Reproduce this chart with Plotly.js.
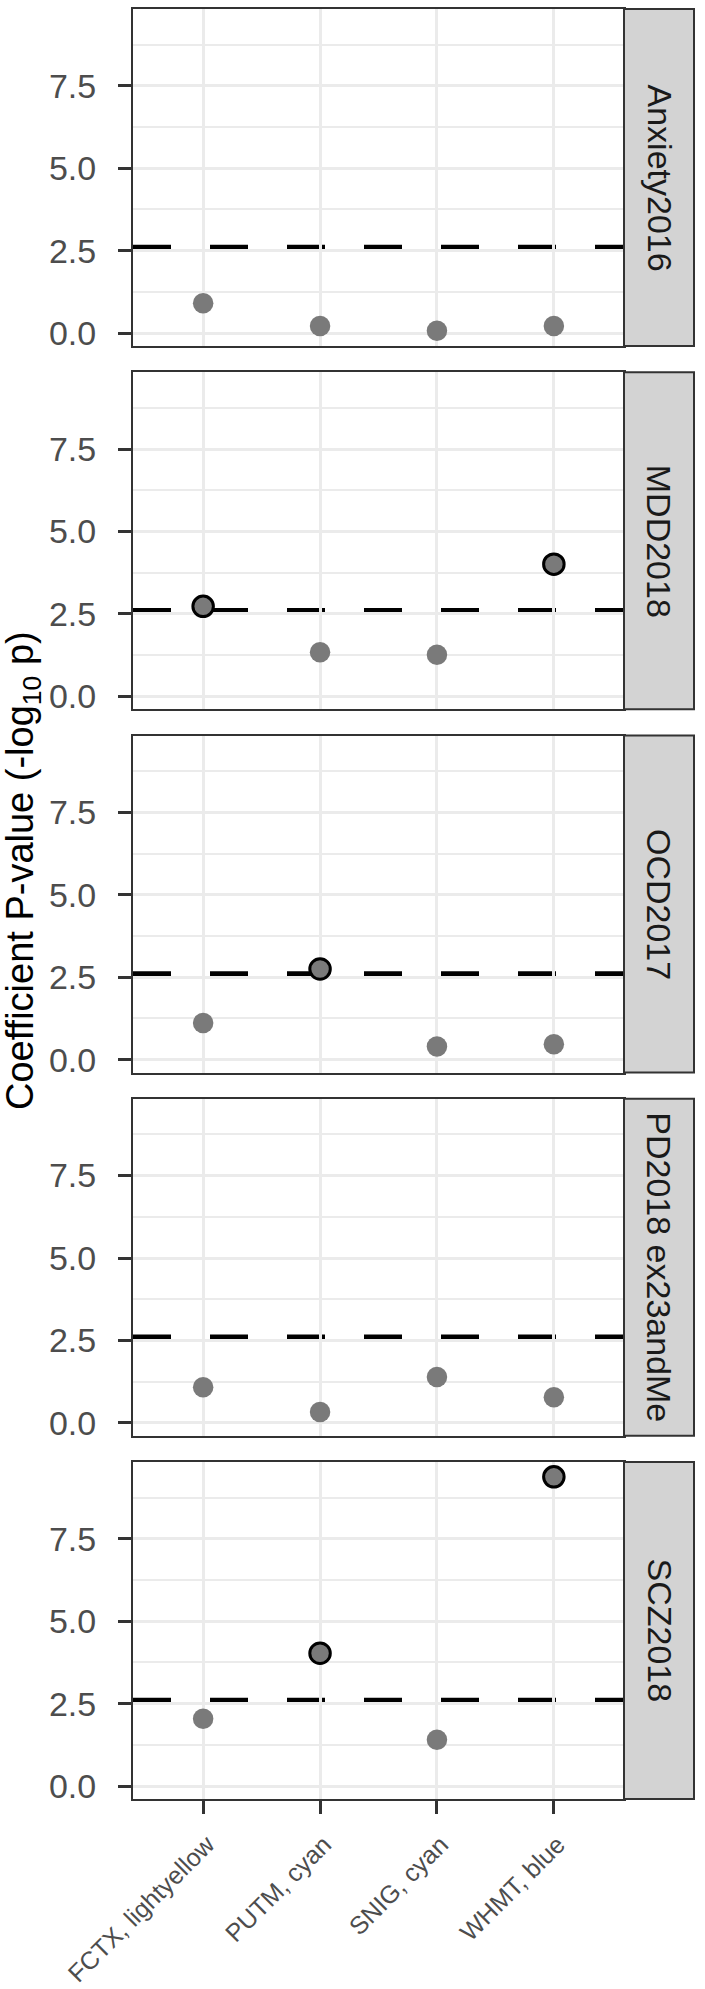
<!DOCTYPE html>
<html>
<head>
<meta charset="utf-8">
<script src="https://cdn.plot.ly/plotly-3.0.1.min.js"></script>
<style>html,body{margin:0;padding:0;background:#fff;}</style>
</head>
<body>
<div id="chart" style="width:705px;height:1989px;"></div>
<script>
// ---- data ----
const categories = ['FCTX, lightyellow', 'PUTM, cyan', 'SNIG, cyan', 'WHMT, blue'];
const panelNames = ['Anxiety2016', 'MDD2018', 'OCD2017', 'PD2018 ex23andMe', 'SCZ2018'];
const anxiety2016 = [0.91, 0.22, 0.07, 0.22];
const mdd2018 = [2.73, 1.34, 1.26, 4.01];
const ocd2017 = [1.11, 2.75, 0.40, 0.47];
const pd2018 = [1.08, 0.33, 1.39, 0.78];
const scz2018 = [2.04, 4.03, 1.41, 9.38];
const threshold = 2.602;
const yTickVals = [0, 2.5, 5, 7.5];
const yTickText = ['0.0', '2.5', '5.0', '7.5'];
const yTitle = 'Coefficient P-value (-log<sub>10</sub> p)';

const series = [anxiety2016, mdd2018, ocd2017, pd2018, scz2018];

// ---- layout geometry ----
const W = 705, H = 1989;
const mL = 133, mR = 81, mT = 9, mB = 190;
const plotW = W - mL - mR;
const plotH = H - mT - mB;          // 1790
const panelStep = 363.25, panelH = 337;
const font = 'Liberation Sans, Arial, Helvetica, sans-serif';
const frame = '#333333';
const gridC = '#ebebeb';

const traces = [];
const layout = {
  width: W, height: H,
  margin: {l: mL, r: mR, t: mT, b: mB, pad: 0},
  paper_bgcolor: '#ffffff',
  plot_bgcolor: 'rgba(0,0,0,0)',
  showlegend: false,
  font: {family: font, color: '#4d4d4d'},
  shapes: [],
  annotations: []
};

const stripX1 = (W - 11 - mL) / plotW;

series.forEach((vals, i) => {
  const n = i + 1;
  const xa = n === 1 ? 'x' : 'x' + n;
  const ya = n === 1 ? 'y' : 'y' + n;
  const xk = n === 1 ? 'xaxis' : 'xaxis' + n;
  const yk = n === 1 ? 'yaxis' : 'yaxis' + n;
  const topPx = i * panelStep;
  const botPx = topPx + panelH;
  const d0 = 1 - botPx / plotH, d1 = 1 - topPx / plotH;

  traces.push({
    type: 'scatter', mode: 'markers',
    x: categories, y: vals, xaxis: xa, yaxis: ya,
    cliponaxis: false,
    marker: {
      size: 20.5,
      color: '#7a7a7a',
      line: {
        color: '#000000',
        width: vals.map(v => v > threshold ? 3 : 0)
      }
    },
    hoverinfo: 'x+y'
  });

  const isBottom = n === series.length;
  layout[xk] = {
    type: 'category',
    categoryorder: 'array', categoryarray: categories,
    range: [-0.6, 3.6],
    domain: [0, 1],
    anchor: ya,
    showgrid: true, gridcolor: gridC, gridwidth: 3,
    zeroline: false,
    showline: true, linecolor: frame, linewidth: 2, mirror: true,
    ticks: isBottom ? 'outside' : '',
    ticklen: 13, tickwidth: 3, tickcolor: frame,
    showticklabels: isBottom,
    tickangle: -45,
    ticklabelstandoff: 6,
    ticklabelshift: 4,
    tickfont: {family: font, size: 25, color: '#4d4d4d'},
    fixedrange: true
  };
  layout[yk] = {
    domain: [d0, d1],
    anchor: xa,
    range: [-0.39, 9.83],
    tickmode: 'array', tickvals: yTickVals, ticktext: yTickText,
    showgrid: true, gridcolor: gridC, gridwidth: 3,
    minor: {dtick: 1.25, tick0: 0, showgrid: true, gridcolor: gridC, gridwidth: 2, ticks: ''},
    zeroline: false,
    showline: true, linecolor: frame, linewidth: 2, mirror: true,
    ticks: 'outside', ticklen: 13, tickwidth: 3, tickcolor: frame,
    ticklabelstandoff: 15,
    tickfont: {family: font, size: 34, color: '#4d4d4d'},
    fixedrange: true
  };

  // threshold dashed line (below traces)
  layout.shapes.push({
    type: 'line', layer: 'below',
    xref: 'paper', x0: 0, x1: 1,
    yref: ya, y0: threshold, y1: threshold,
    line: {color: '#000000', width: 5, dash: '38px,39px'}
  });
  // facet strip
  layout.shapes.push({
    type: 'rect', layer: 'above',
    xref: 'paper', x0: 1, x1: stripX1,
    yref: 'paper', y0: d0, y1: d1,
    fillcolor: '#d3d3d3',
    line: {color: frame, width: 2}
  });
  layout.annotations.push({
    text: panelNames[i],
    xref: 'paper', x: (1 + stripX1) / 2,
    yref: 'paper', y: (d0 + d1) / 2,
    xanchor: 'center', yanchor: 'middle',
    textangle: 90, showarrow: false,
    font: {family: font, size: 34, color: '#1a1a1a'}
  });
});

// y axis title
layout.annotations.push({
  text: yTitle,
  xref: 'paper', x: (23 - mL) / plotW,
  yref: 'paper', y: (plotH + mT - 871) / plotH,
  xanchor: 'center', yanchor: 'middle',
  textangle: -90, showarrow: false,
  font: {family: font, size: 38, color: '#000000'}
});

Plotly.newPlot('chart', traces, layout, {staticPlot: true, displayModeBar: false});
</script>
</body>
</html>
